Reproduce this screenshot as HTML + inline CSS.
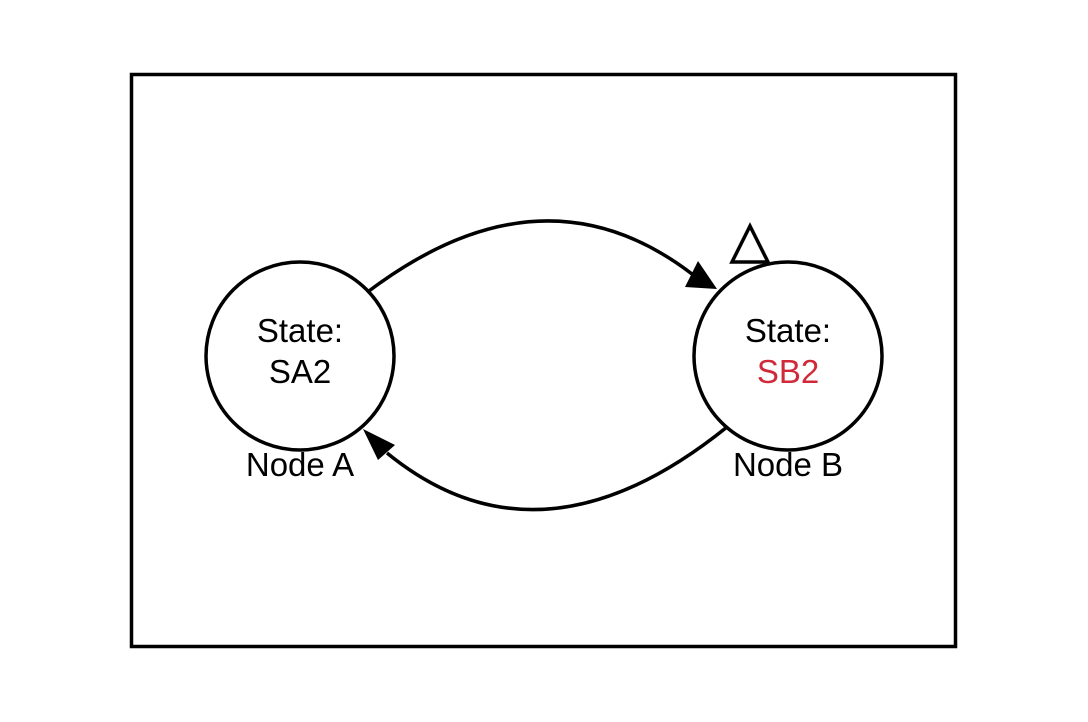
<!DOCTYPE html>
<html><head><meta charset="utf-8"><style>
html,body{margin:0;padding:0;background:#fff;width:1088px;height:722px;overflow:hidden}
text{font-family:"Liberation Sans",sans-serif;font-size:33px}
</style></head><body>
<svg width="1088" height="722" viewBox="0 0 1088 722" xmlns="http://www.w3.org/2000/svg">
<rect x="131.5" y="74.5" width="824" height="572" fill="#fff" stroke="#000" stroke-width="3.5"/>
<circle cx="300" cy="356" r="94" fill="#fff" stroke="#000" stroke-width="3.5"/>
<circle cx="788" cy="356" r="94" fill="#fff" stroke="#000" stroke-width="3.5"/>
<path d="M369 291 Q543 160 692 274" fill="none" stroke="#000" stroke-width="3.5"/>
<polygon points="717,289 685,287 698,261" fill="#000"/>
<path d="M727 427 Q540 578 387 453" fill="none" stroke="#000" stroke-width="3.5"/>
<polygon points="363,429 378,460 395,445" fill="#000"/>
<polygon points="750,226 732,262 768,262" fill="#fff" stroke="#000" stroke-width="3.5"/>
<text x="300" y="342" text-anchor="middle">State:</text>
<text x="300" y="383" text-anchor="middle">SA2</text>
<text x="788" y="342" text-anchor="middle">State:</text>
<text x="788" y="383" text-anchor="middle" fill="#d0293a">SB2</text>
<text x="300" y="476" text-anchor="middle">Node A</text>
<text x="788" y="476" text-anchor="middle">Node B</text>
</svg>
</body></html>
